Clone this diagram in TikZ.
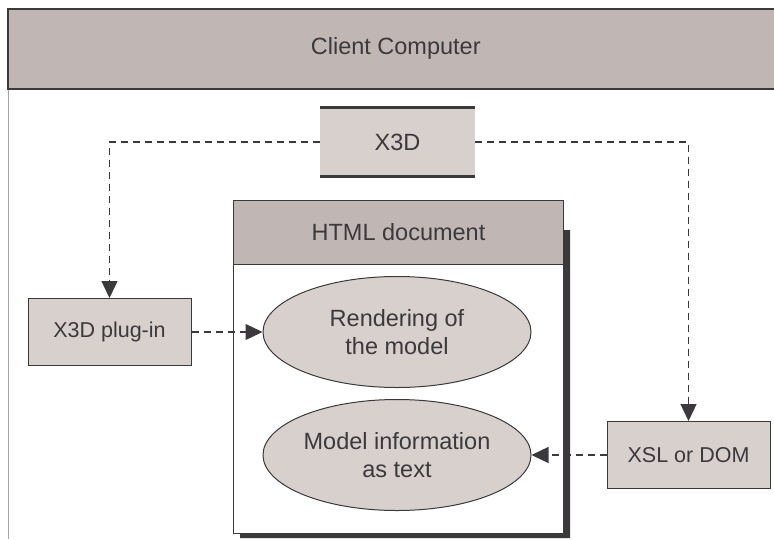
\documentclass[tikz,border=0pt]{standalone}
\usepackage{fontspec}
\setmainfont{Liberation Sans}
\usetikzlibrary{positioning,shapes.geometric,arrows.meta}
\definecolor{headgray}{HTML}{C0B7B4}
\definecolor{boxgray}{HTML}{D7D0CD}
\definecolor{inkgray}{HTML}{3B393C}

\begin{document}
\begin{tikzpicture}%
  [x=1pt, y=-1pt,
   >={Triangle[length=17pt,width=16pt]},
   font=\fontsize{23.5}{27.6}\selectfont,
   every node/.style={text=inkgray},
   flow/.style={draw=inkgray, line width=1.3pt, dash pattern=on 7pt off 5pt},
   tool/.style={rectangle, draw=inkgray, fill=boxgray, line width=1pt, minimum width=163pt, minimum height=67pt,
                font=\fontsize{21.5}{25}\selectfont},
   part/.style={ellipse, draw=inkgray, fill=boxgray, line width=1pt, minimum width=268pt, minimum height=111pt, align=center, inner sep=0pt}
  ]
\useasboundingbox (0,0) rectangle (774,539);

% client computer frame
\draw[gray!70, line width=1pt] (8,88) -- (8,539);
\node[draw=inkgray, fill=headgray, line width=1.5pt, minimum width=776pt, minimum height=80pt, anchor=north west]
  (client) at (7,8) {Client Computer};

% html document with its shadow
\fill[inkgray] (563,230) -- (570,230) -- (570,538) -- (240,538) -- (240,533) -- (563,533) -- cycle;
\node[draw=inkgray, fill=white, line width=1pt, minimum width=330pt, minimum height=333pt, anchor=north west]
  (html) at (233,200) {};
\node[draw=inkgray, fill=headgray, line width=1pt, minimum width=330pt, minimum height=64pt, anchor=north west]
  (htmlhead) at (html.north west) {HTML document};

\node[part] (render) at (397,332) {Rendering of\\the model};
\node[part] (info)   at (397,455) {Model information\\as text};

% sources
\node[fill=boxgray, minimum width=155pt, minimum height=69pt] (x3d) at (397.5,142) {X3D};
\draw[inkgray, line width=3pt] (x3d.north west) -- (x3d.north east)
                               (x3d.south west) -- (x3d.south east);
\node[tool] (plugin) at (109.5,332) {X3D plug-in};
\node[tool] (xsl)    at (688.5,455) {XSL or DOM};

\path[->]
%   FROM           ROUTE   TO
   (x3d.west)      edge[flow, to path={-| (\tikztotarget)}] (plugin.north)
   (x3d.east)      edge[flow, to path={-| (\tikztotarget)}] (xsl.north)
   (plugin)        edge[flow]                               (render)
   (xsl)           edge[flow]                               (info)
   ;
\end{tikzpicture}
\end{document}
